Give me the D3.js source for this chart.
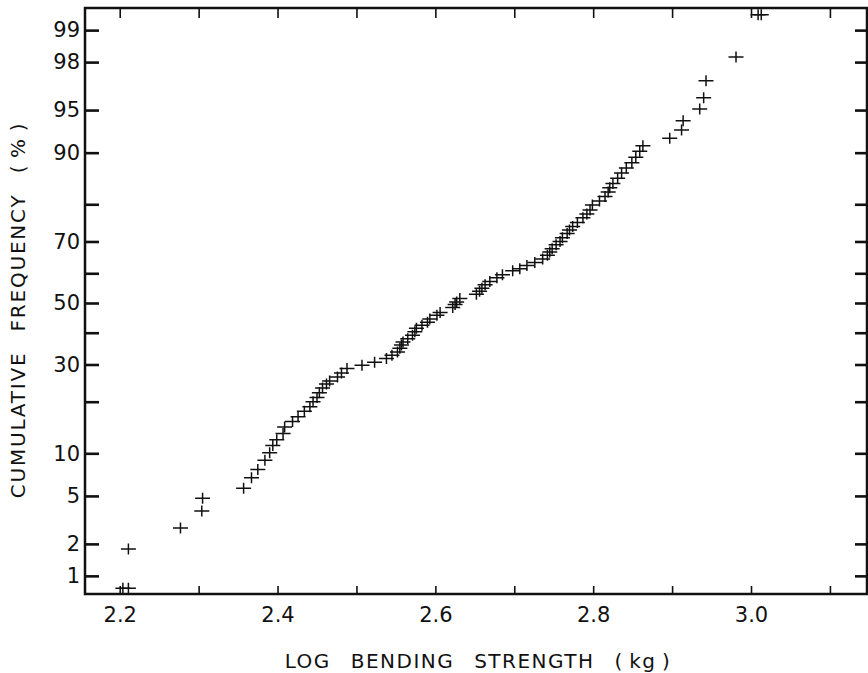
<!DOCTYPE html>
<html lang="en">
<head>
  <meta charset="UTF-8">
  <title>Cumulative frequency of log bending strength</title>
  <style>
    body, html {
        margin: 0;
        padding: 0;
        background-color: #fff;
    }
    svg text {
        font-family: "DejaVu Sans";
        fill: #111;
    }
    .axis path { display: none; }
    .axis line { stroke: #111; }
  </style>
</head>
<body>

<svg id="chart" width="868" height="673"></svg>

<script src="https://cdnjs.cloudflare.com/ajax/libs/d3/7.8.5/d3.min.js"></script>

<script>
// log bending strength (kg) of each specimen
var strength = [
  2.204, 2.211, 2.211, 2.277, 2.304, 2.305, 2.357, 2.367, 2.375, 2.384,
  2.390, 2.394, 2.399, 2.407, 2.409, 2.419, 2.426, 2.434, 2.441, 2.445,
  2.450, 2.453, 2.457, 2.462, 2.466, 2.476, 2.481, 2.488, 2.507, 2.523,
  2.538, 2.545, 2.552, 2.555, 2.557, 2.559, 2.565, 2.571, 2.574, 2.576,
  2.583, 2.590, 2.593, 2.602, 2.606, 2.622, 2.625, 2.627, 2.631, 2.652,
  2.656, 2.659, 2.663, 2.669, 2.678, 2.685, 2.698, 2.707, 2.716, 2.726,
  2.736, 2.742, 2.745, 2.748, 2.753, 2.758, 2.761, 2.767, 2.770, 2.774,
  2.780, 2.787, 2.792, 2.796, 2.799, 2.808, 2.815, 2.819, 2.821, 2.825,
  2.831, 2.836, 2.842, 2.849, 2.854, 2.859, 2.863, 2.897, 2.912, 2.914,
  2.935, 2.940, 2.943, 2.981, 3.009, 3.013
];
// cumulative frequency (%) of each point
var cumFreq = [
  0.75, 0.75, 1.8, 2.75, 3.8, 4.8, 5.7, 6.8, 7.8, 9.0,
  10.1, 11.2, 12.2, 13.3, 14.5, 15.6, 16.6, 17.8, 18.8, 20.0,
  21.0, 22.2, 23.4, 24.5, 25.3, 26.4, 27.5, 28.8, 29.8, 30.7,
  31.8, 32.8, 33.8, 35.0, 36.0, 37.0, 38.0, 39.2, 40.3, 41.5,
  42.5, 43.5, 44.6, 45.8, 46.8, 48.5, 49.5, 50.3, 51.5, 53.0,
  54.0, 55.0, 56.2, 57.3, 58.5, 59.5, 60.8, 61.5, 62.5, 63.5,
  64.6, 65.8, 66.8, 67.8, 69.0, 70.0, 71.1, 72.3, 73.3, 74.3,
  75.4, 76.6, 77.6, 78.6, 79.8, 80.8, 81.8, 82.8, 83.7, 84.6,
  85.6, 86.6, 87.5, 88.4, 89.3, 90.2, 91.0, 92.0, 93.0, 94.0,
  95.1, 96.0, 97.1, 98.2, 99.3, 99.3
];

var xTicks = [2.2, 2.3, 2.4, 2.5, 2.6, 2.7, 2.8, 2.9, 3.0, 3.1];
var xLabels = [2.2, 2.4, 2.6, 2.8, 3.0];
var yTicks = [1, 2, 5, 10, 20, 30, 40, 50, 60, 70, 80, 90, 95, 98, 99];
var yLabels = [1, 2, 5, 10, 30, 50, 70, 90, 95, 98, 99];

// inverse of the standard normal cdf (Acklam), percent in
function probit(pct) {
  var p = pct / 100;
  var a = [-3.969683028665376e+01, 2.209460984245205e+02, -2.759285104469687e+02,
           1.383577518672690e+02, -3.066479806614716e+01, 2.506628277459239e+00],
      b = [-5.447609879822406e+01, 1.615858368580409e+02, -1.556989798598866e+02,
           6.680131188771972e+01, -1.328068155288572e+01],
      c = [-7.784894002430293e-03, -3.223964580411365e-01, -2.400758277161838e+00,
           -2.549732539343734e+00, 4.374664141464968e+00, 2.938163982698783e+00],
      d = [7.784695709041462e-03, 3.224671290700398e-01, 2.445134137142996e+00,
           3.754408661907416e+00];
  var q, r;
  if (p < 0.02425) {
    q = Math.sqrt(-2 * Math.log(p));
    return (((((c[0]*q+c[1])*q+c[2])*q+c[3])*q+c[4])*q+c[5]) /
           ((((d[0]*q+d[1])*q+d[2])*q+d[3])*q+1);
  }
  if (p > 1 - 0.02425) {
    q = Math.sqrt(-2 * Math.log(1 - p));
    return -(((((c[0]*q+c[1])*q+c[2])*q+c[3])*q+c[4])*q+c[5]) /
            ((((d[0]*q+d[1])*q+d[2])*q+d[3])*q+1);
  }
  q = p - 0.5;
  r = q * q;
  return (((((a[0]*r+a[1])*r+a[2])*r+a[3])*r+a[4])*r+a[5])*q /
         (((((b[0]*r+b[1])*r+b[2])*r+b[3])*r+b[4])*r+1);
}

var svg = d3.select("#chart"),
  plotL = 85, plotR = 867, plotT = 8, plotB = 594,
  x = d3.scaleLinear().domain([2.156, 3.147]).range([plotL, plotR]),
  z = d3.scaleLinear().domain([-2.481, 2.515]).range([plotB, plotT]);

// frame
svg.append("rect")
  .attr("x", plotL).attr("y", plotT)
  .attr("width", plotR - plotL).attr("height", plotB - plotT)
  .attr("fill", "none")
  .attr("stroke", "#111")
  .attr("stroke-width", 2.5);

var fmtX = function (d) { return xLabels.indexOf(d) >= 0 ? d.toFixed(1) : ""; };
var yLookup = {};
yTicks.forEach(function (t) { yLookup[probit(t).toFixed(6)] = t; });
var fmtY = function (v) {
  var t = yLookup[v.toFixed(6)];
  return yLabels.indexOf(t) >= 0 ? String(t) : "";
};

svg.append("g")
  .attr("class", "axis")
  .attr("transform", "translate(0," + plotB + ")")
  .call(d3.axisBottom(x).tickValues(xTicks).tickSize(-8).tickPadding(13).tickFormat(fmtX))
  .call(function (g) {
    g.selectAll("line").attr("stroke-width", 1.6);
    g.selectAll("text").attr("font-size", 21);
  });

svg.append("g")
  .attr("class", "axis")
  .attr("transform", "translate(0," + plotT + ")")
  .call(d3.axisTop(x).tickValues(xTicks).tickSize(-10).tickFormat(""))
  .call(function (g) { g.selectAll("line").attr("stroke-width", 1.6); });

svg.append("g")
  .attr("class", "axis")
  .attr("transform", "translate(" + plotL + ",0)")
  .call(d3.axisLeft(z).tickValues(yTicks.map(probit)).tickSize(-14).tickPadding(5).tickFormat(fmtY))
  .call(function (g) {
    g.selectAll("line").attr("stroke-width", 2.6);
    g.selectAll("text").attr("font-size", 21);
  });

svg.append("g")
  .attr("class", "axis")
  .attr("transform", "translate(" + plotR + ",0)")
  .call(d3.axisRight(z).tickValues(yTicks.map(probit)).tickSize(-12).tickFormat(""))
  .call(function (g) { g.selectAll("line").attr("stroke-width", 2.6); });

// axis titles
svg.append("text")
  .attr("x", 478)
  .attr("y", 668)
  .attr("text-anchor", "middle")
  .attr("font-size", 20)
  .attr("letter-spacing", 1.5)
  .attr("word-spacing", 12)
  .text("LOG BENDING STRENGTH (\u2009kg\u2009)");

svg.append("text")
  .attr("transform", "translate(25,310) rotate(-90)")
  .attr("text-anchor", "middle")
  .attr("font-size", 20)
  .attr("letter-spacing", 1.8)
  .attr("word-spacing", 12)
  .text("CUMULATIVE FREQUENCY (\u2009%\u2009)");

// plus markers
svg.append("g")
  .selectAll("path")
  .data(strength.map(function (s, i) { return [s, cumFreq[i]]; }))
  .join("path")
  .attr("transform", function (d) { return "translate(" + x(d[0]) + "," + z(probit(d[1])) + ")"; })
  .attr("d", "M-7.5,0H7.5M0,-5.5V5.5")
  .attr("stroke", "#111")
  .attr("stroke-width", 1.5)
  .attr("fill", "none");
</script>

</body>
</html>
